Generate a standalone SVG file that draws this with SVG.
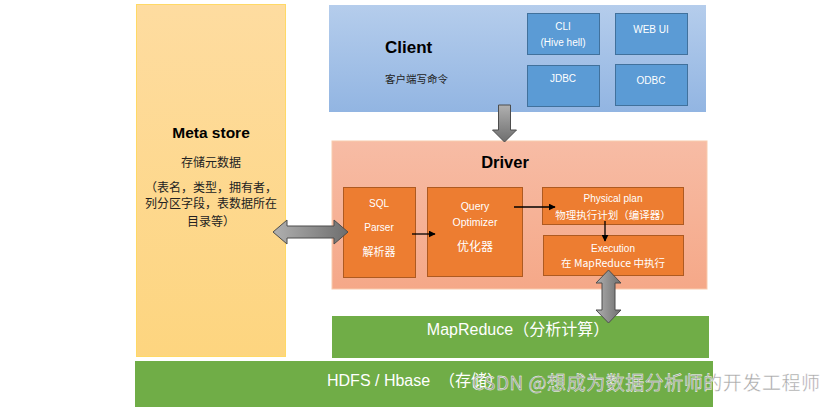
<svg xmlns="http://www.w3.org/2000/svg" width="836" height="409" viewBox="0 0 836 409">
<defs>
<linearGradient id="gClient" x1="0" y1="0" x2="0" y2="1"><stop offset="0" stop-color="#b5cdec"/><stop offset="1" stop-color="#92b5e2"/></linearGradient>
<linearGradient id="gDriver" x1="0" y1="0" x2="0" y2="1"><stop offset="0" stop-color="#f7bca5"/><stop offset="1" stop-color="#f5a888"/></linearGradient>
<linearGradient id="gMeta" x1="0" y1="0" x2="0" y2="1"><stop offset="0" stop-color="#fedca0"/><stop offset="1" stop-color="#fdd57f"/></linearGradient>
<linearGradient id="gGrayH" x1="0" y1="0" x2="1" y2="0"><stop offset="0" stop-color="#b0b0b0"/><stop offset="1" stop-color="#6e6e6e"/></linearGradient>
<linearGradient id="gGrayV" x1="0" y1="0" x2="0" y2="1"><stop offset="0" stop-color="#b0b0b0"/><stop offset="1" stop-color="#6e6e6e"/></linearGradient>
<marker id="ah" viewBox="0 0 10 10" refX="9" refY="5" markerWidth="7" markerHeight="7" markerUnits="userSpaceOnUse" orient="auto"><path d="M0,0 L10,5 L0,10 z" fill="#000"/></marker>
</defs>
<style>
text{font-family:"Liberation Sans","Noto Sans CJK SC",sans-serif;}
.cjk{font-family:"Noto Sans CJK SC","Liberation Sans",sans-serif;}
.title{font-weight:bold;fill:#000;}
.blue{fill:#5b9bd5;stroke:#41719c;stroke-width:1;}
.orange{fill:#ed7d31;stroke:#ae5a21;stroke-width:1;}
.green{fill:#70ad47;}
.w{fill:#fff;text-anchor:middle;}
.fat{stroke:#4d4d4d;stroke-width:1;}
.link{stroke:#000;stroke-width:1.3;fill:none;marker-end:url(#ah);}
</style>
<rect width="836" height="409" fill="#fff"/>
<g id="metastore">
<rect x="136.5" y="4.5" width="149" height="352" fill="url(#gMeta)" stroke="#ffd966" stroke-width="1"/>
<text x="211" y="138" class="title" font-size="15.5" text-anchor="middle">Meta store</text>
<text x="211" y="167" class="cjk" font-size="12" fill="#222" text-anchor="middle">存储元数据</text>
<text x="211" y="192" class="cjk" font-size="12" fill="#222" text-anchor="middle">（表名，类型，拥有者，</text>
<text x="211" y="208" class="cjk" font-size="12" fill="#222" text-anchor="middle">列分区字段，表数据所在</text>
<text x="211" y="226" class="cjk" font-size="12" fill="#222" text-anchor="middle">目录等）</text>
</g>
<g id="client">
<rect x="329" y="5" width="377" height="107" fill="url(#gClient)"/>
<text x="385" y="53" class="title" font-size="17">Client</text>
<text x="385" y="83" class="cjk" font-size="10.5" fill="#222">客户端写命令</text>
</g>
<g id="cli">
<rect x="527.5" y="13.5" width="72" height="41" class="blue"/>
<text x="563" y="30" class="w" font-size="10">CLI</text>
<text x="563" y="46" class="w" font-size="10">(Hive hell)</text>
</g>
<g id="webui">
<rect x="615.5" y="13.5" width="72" height="41" class="blue"/>
<text x="651" y="33" class="w" font-size="10">WEB UI</text>
</g>
<g id="jdbc">
<rect x="527.5" y="65.5" width="72" height="41" class="blue"/>
<text x="563" y="82" class="w" font-size="10">JDBC</text>
</g>
<g id="odbc">
<rect x="615.5" y="64.5" width="72" height="41" class="blue"/>
<text x="651" y="84" class="w" font-size="10">ODBC</text>
</g>
<g id="driver">
<rect x="332" y="141" width="375" height="148" fill="url(#gDriver)" stroke="#f8cbad" stroke-width="1"/>
<text x="505" y="168" class="title" font-size="16.5" text-anchor="middle">Driver</text>
</g>
<g id="sqlparser">
<rect x="343.5" y="187.5" width="72" height="90" class="orange"/>
<text x="379" y="207" class="w" font-size="10">SQL</text>
<text x="379" y="231" class="w" font-size="10">Parser</text>
<text x="379" y="256" class="w cjk" font-size="11">解析器</text>
</g>
<g id="optimizer">
<rect x="427.5" y="187.5" width="95" height="89" class="orange"/>
<text x="475" y="210" class="w" font-size="10.5">Query</text>
<text x="475" y="226" class="w" font-size="10.5">Optimizer</text>
<text x="475" y="251" class="w cjk" font-size="12">优化器</text>
</g>
<g id="physicalplan">
<rect x="542.5" y="187.5" width="141" height="37" class="orange"/>
<text x="613" y="202" class="w" font-size="10">Physical plan</text>
<text x="613" y="219" class="w cjk" font-size="10.5">物理执行计划（编译器）</text>
</g>
<g id="execution">
<rect x="543.5" y="235.5" width="140" height="40" class="orange"/>
<text x="613" y="252" class="w" font-size="10">Execution</text>
<text x="613" y="267" class="w cjk" font-size="10.5">在 MapReduce 中执行</text>
</g>
<g id="mapreduce">
<rect x="332" y="316" width="377" height="42" class="green"/>
<text x="518" y="335" class="w" font-size="16">MapReduce（分析计算）</text>
</g>
<g id="hdfs">
<rect x="135" y="361" width="578" height="46" class="green"/>
<text x="327" y="386" fill="#fff" font-size="16" xml:space="preserve">HDFS / Hbase  （存储）</text>
</g>
<g id="connectors">
<line x1="412" y1="234" x2="435" y2="234" class="link"/>
<line x1="514" y1="207" x2="555" y2="207" class="link"/>
<line x1="605" y1="221" x2="605" y2="241" class="link"/>
<polygon class="fat" fill="url(#gGrayV)" points="498.5,105 510.5,105 510.5,130 516.5,130 504.5,142 492.5,130 498.5,130"/>
<polygon class="fat" fill="url(#gGrayH)" points="273,232 287,220 287,226 334,226 334,220 348,232 334,244 334,238 287,238 287,244"/>
<polygon class="fat" fill="url(#gGrayH)" points="608.5,270 621,283 615,283 615,310 621,310 608.5,323 596,310 602,310 602,283 596,283"/>
</g>
<text x="472" y="390" class="cjk" font-size="19" fill="#9a9a9a" stroke="#fff" stroke-width="0.4" fill-opacity="0.9" textLength="348" lengthAdjust="spacing">CSDN @想成为数据分析师的开发工程师</text>
</svg>
